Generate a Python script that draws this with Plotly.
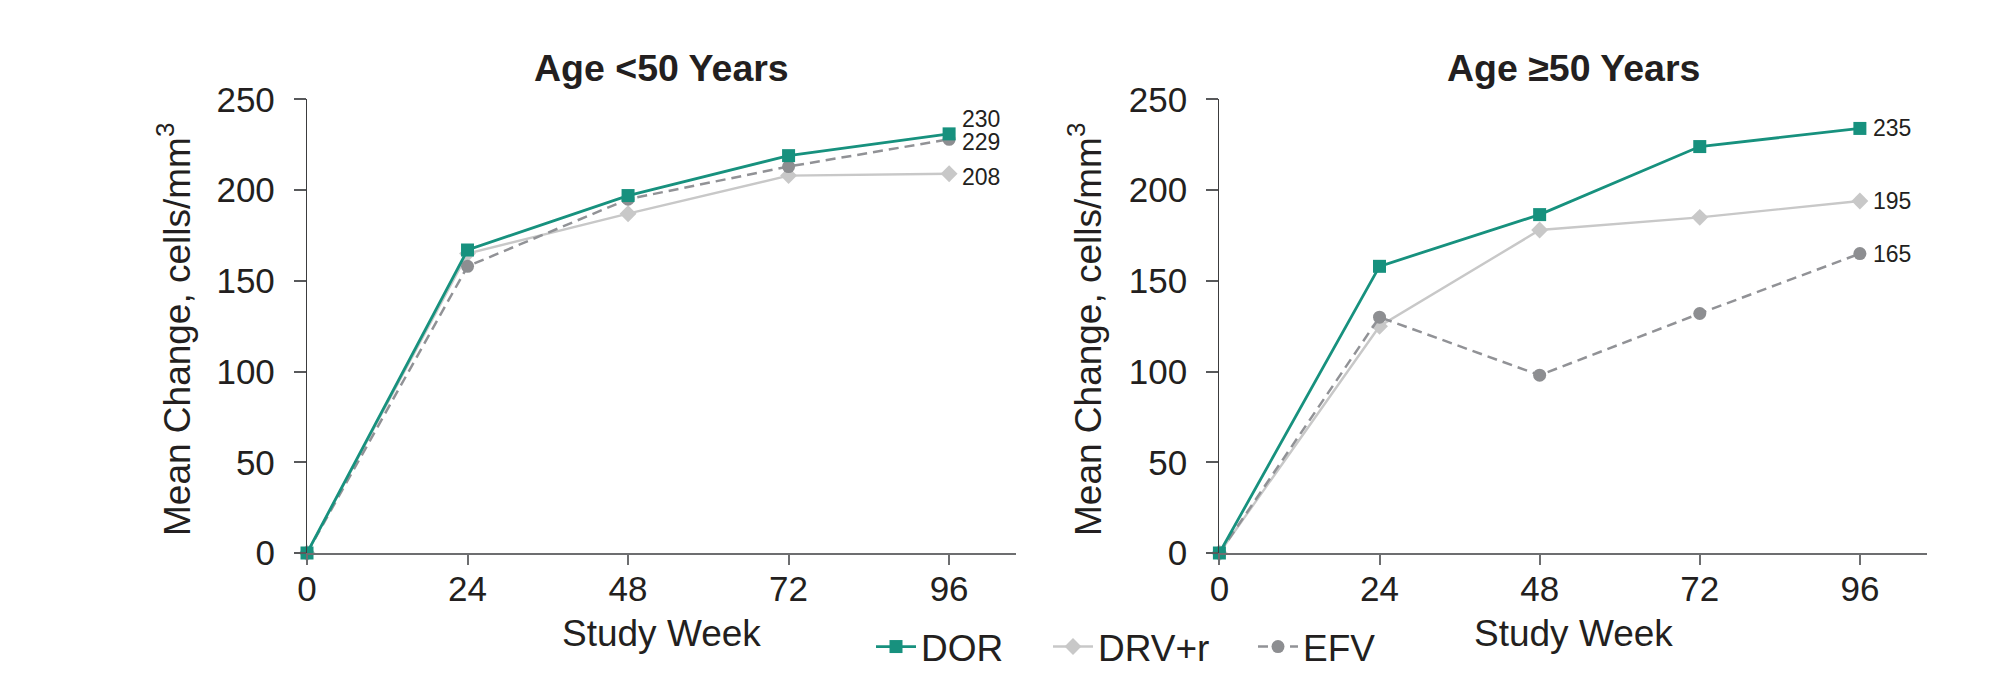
import plotly.graph_objects as go

weeks = [0, 24, 48, 72, 96]
tick_vals_y = [0, 50, 100, 150, 200, 250]

# Age <50 years
dor_lt50 = [0, 167, 197, 219, 231]
drv_lt50 = [0, 165, 187, 208, 209]
efv_lt50 = [0, 158, 195, 213, 228]
labels_lt50 = {"DOR": "230", "DRV+r": "208", "EFV": "229"}

# Age >=50 years
dor_ge50 = [0, 158, 186.5, 224, 234]
drv_ge50 = [0, 125, 178, 185, 194]
efv_ge50 = [0, 130, 98, 132, 165]
labels_ge50 = {"DOR": "235", "DRV+r": "195", "EFV": "165"}

panel_titles = ["Age <50 Years", "Age \u226550 Years"]
x_title = "Study Week"
y_title = "Mean Change, cells/mm<sup>3</sup>"

TEAL = "#17917e"
LGRAY = "#c8c8c8"
DGRAY = "#919296"
TXT = "#231f20"
FONT = "Liberation Sans, Arial, Helvetica, sans-serif"

# page body has an 8px margin: work in paper pixels
W, H = 1990, 665
OFF = 8


def px_x(sx):
    return (sx - OFF) / W


def px_y(sy):
    return (H - (sy - OFF)) / H


styles = {
    "DOR": dict(line=dict(color=TEAL, width=2.8), marker=dict(symbol="square", size=13, color=TEAL)),
    "DRV+r": dict(line=dict(color=LGRAY, width=2.4), marker=dict(symbol="diamond", size=13, color=LGRAY)),
    "EFV": dict(line=dict(color=DGRAY, width=2.5, dash="10px,6px"), marker=dict(symbol="circle", size=13, color="#8d8e91")),
}
legend_id = {"DOR": "legend", "DRV+r": "legend2", "EFV": "legend3"}
legend_x = {"legend": 871, "legend2": 1048, "legend3": 1253}

fig = go.Figure()

panels = [
    ("x", "y", {"DRV+r": drv_lt50, "EFV": efv_lt50, "DOR": dor_lt50}, labels_lt50, True),
    ("x2", "y2", {"DRV+r": drv_ge50, "EFV": efv_ge50, "DOR": dor_ge50}, labels_ge50, False),
]

label_yshift = {
    ("x", "DOR"): 15, ("x", "EFV"): -3, ("x", "DRV+r"): -3,
    ("x2", "DOR"): 0, ("x2", "EFV"): 0, ("x2", "DRV+r"): 0,
}

for xa, ya, series, labels, show in panels:
    for name, vals in series.items():
        st = styles[name]
        fig.add_trace(go.Scatter(
            x=weeks, y=vals, name=name, mode="lines+markers",
            line=st["line"], marker=st["marker"], xaxis=xa, yaxis=ya,
            showlegend=show, legend=legend_id[name], cliponaxis=False,
        ))
        fig.add_annotation(
            x=weeks[-1], y=vals[-1], xref=xa, yref=ya, text=labels[name],
            showarrow=False, xanchor="left", yanchor="middle", xshift=11,
            yshift=label_yshift[(xa, name)],
            font=dict(family=FONT, size=23, color=TXT),
        )

ybot, ytop = px_y(553), px_y(99.4)
xdoms = [(px_x(307), px_x(1016)), (px_x(1219.4), px_x(1926.6))]

axis_common_x = dict(
    range=[0, 106], tickvals=weeks, showline=True, linecolor="#6d6e70", linewidth=2,
    ticks="outside", ticklen=10, tickwidth=1.5, tickcolor="#6d6e70",
    showgrid=False, zeroline=False, ticklabelstandoff=-6,
    tickfont=dict(family=FONT, size=35, color=TXT),
)
axis_common_y = dict(
    range=[0, 250], tickvals=tick_vals_y, showline=True, linecolor="#3c3c3e", linewidth=1.3,
    ticks="outside", ticklen=12, tickwidth=1.5, tickcolor="#58595b",
    showgrid=False, zeroline=False, ticklabelstandoff=12,
    tickfont=dict(family=FONT, size=35, color=TXT),
)

leg_common = dict(
    orientation="h", xanchor="left", y=px_y(647), yanchor="middle",
    font=dict(family=FONT, size=37, color=TXT), bgcolor="rgba(0,0,0,0)",
    itemwidth=40,
)

fig.update_layout(
    width=W, height=H,
    paper_bgcolor="white", plot_bgcolor="white",
    margin=dict(l=0, r=0, t=0, b=0, autoexpand=False),
    xaxis=dict(domain=list(xdoms[0]), anchor="y", **axis_common_x),
    yaxis=dict(domain=[ybot, ytop], anchor="x", **axis_common_y),
    xaxis2=dict(domain=list(xdoms[1]), anchor="y2", **axis_common_x),
    yaxis2=dict(domain=[ybot, ytop], anchor="x2", **axis_common_y),
    showlegend=True,
    legend=dict(x=px_x(legend_x["legend"]), **leg_common),
    legend2=dict(x=px_x(legend_x["legend2"]), **leg_common),
    legend3=dict(x=px_x(legend_x["legend3"]), **leg_common),
)

for i, (d0, d1) in enumerate(xdoms):
    cx = (d0 + d1) / 2
    fig.add_annotation(x=cx, y=px_y(68), xref="paper", yref="paper",
                       text="<b>" + panel_titles[i] + "</b>", showarrow=False,
                       xanchor="center", yanchor="middle",
                       font=dict(family=FONT, size=37.5, color=TXT))
    fig.add_annotation(x=cx, y=px_y(633), xref="paper", yref="paper",
                       text=x_title, showarrow=False, xanchor="center", yanchor="middle",
                       font=dict(family=FONT, size=37, color=TXT))

for xc in [175, 1086]:
    fig.add_annotation(x=px_x(xc), y=px_y(330), xref="paper", yref="paper",
                       text=y_title, showarrow=False, textangle=-90,
                       xanchor="center", yanchor="middle",
                       font=dict(family=FONT, size=37, color=TXT))

fig.write_html("out.html")
